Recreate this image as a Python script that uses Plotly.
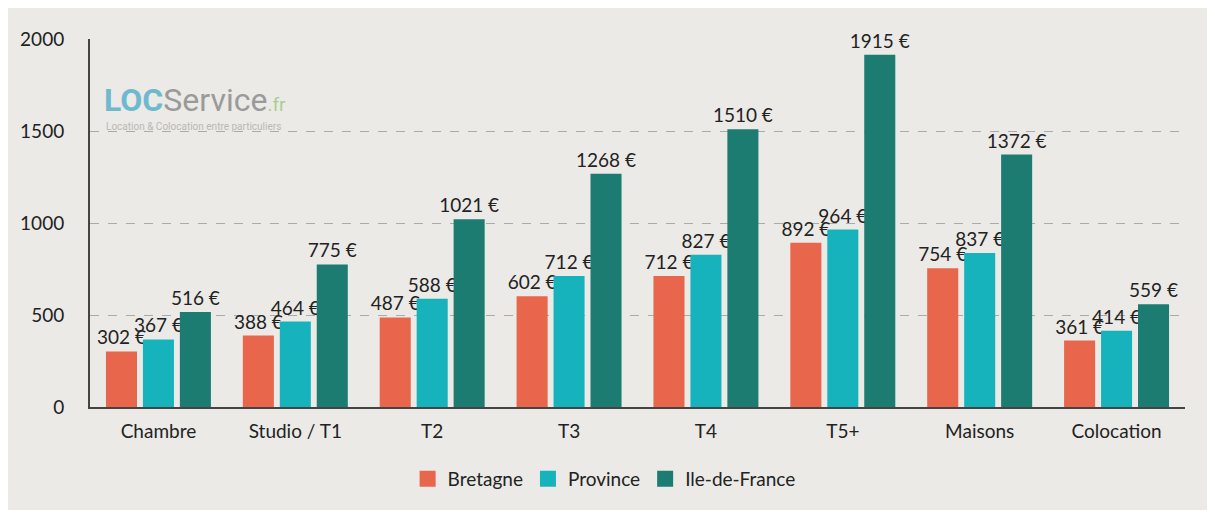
import plotly.graph_objects as go

categories = ["Chambre", "Studio / T1", "T2", "T3", "T4", "T5+", "Maisons", "Colocation"]
bretagne = [302, 388, 487, 602, 712, 892, 754, 361]
province = [367, 464, 588, 712, 827, 964, 837, 414]
idf = [516, 775, 1021, 1268, 1510, 1915, 1372, 559]
series_names = ["Bretagne", "Province", "Ile-de-France"]
colors = ["#e8664b", "#17b3bc", "#1d7c72"]
y_ticks = [0, 500, 1000, 1500, 2000]

FONT = "Lato, 'Open Sans', sans-serif"
TXT = "#222222"
FS = 19

# page body has an 8px margin; figure placed at (8, 8)
W, H = 1199, 502
L, T = 78, 31
PW, PH = 1099, 369
R = W - L - PW
B = H - T - PH


def px_x(px):
    return (px - 8 - L) / PW


def px_y(py):
    return (T + PH - (py - 8)) / PH


fig = go.Figure()
for name, vals, col in zip(series_names, [bretagne, province, idf], colors):
    fig.add_trace(go.Bar(
        name=name, x=categories, y=vals, marker=dict(color=col, line=dict(width=0)),
        text=[f"{v} €" for v in vals], textposition="outside",
        textfont=dict(family=FONT, size=FS, color=TXT),
        constraintext="none", cliponaxis=False, showlegend=False,
    ))
# legend entries with larger square swatches
for name, col in zip(series_names, colors):
    fig.add_trace(go.Scatter(
        name=name, x=[None], y=[None], mode="markers",
        marker=dict(symbol="square", size=18, color=col), showlegend=True,
    ))

fig.update_layout(
    width=W, height=H,
    margin=dict(l=L, r=R, t=T, b=B, pad=0),
    paper_bgcolor="#ebeae6", plot_bgcolor="rgba(0,0,0,0)",
    barmode="group", bargap=0.19, bargroupgap=0.16,
    font=dict(family=FONT, size=FS, color=TXT),
    showlegend=True,
    legend=dict(orientation="h", x=px_x(602), xanchor="center", y=px_y(480), yanchor="middle",
                font=dict(family=FONT, size=FS, color=TXT), bgcolor="rgba(0,0,0,0)",
                itemwidth=30, itemsizing="trace", traceorder="normal"),
    xaxis=dict(showline=True, linecolor="#444444", linewidth=2, ticks="",
               tickfont=dict(family=FONT, size=FS, color=TXT), ticklabelstandoff=6,
               showgrid=False),
    yaxis=dict(range=[0, 2000], tickvals=y_ticks, showline=True, linecolor="#444444", linewidth=2,
               showgrid=True, gridcolor="#aaaaaa", griddash="dash", gridwidth=1,
               zeroline=False, ticks="", ticklabelstandoff=20,
               tickfont=dict(family=FONT, size=FS, color=TXT)),
    annotations=[
        dict(xref="paper", yref="paper", x=px_x(98), y=px_y(100), xanchor="left", yanchor="middle",
             showarrow=False,
             text="<b><span style='color:#6fb9cf'>LOC</span></b>"
                  "<span style='color:#9a9a9a'>Service</span>"
                  "<span style='color:#a9cf8f;font-size:19px'>.fr</span>",
             font=dict(family="Roboto, sans-serif", size=32)),
        dict(xref="paper", yref="paper", x=px_x(100), y=px_y(127), xanchor="left", yanchor="middle",
             showarrow=False, text="Location & Colocation entre particuliers",
             font=dict(family="Roboto, sans-serif", size=10, color="#b8b8b8")),
    ],
)

fig.write_html("out.html")
